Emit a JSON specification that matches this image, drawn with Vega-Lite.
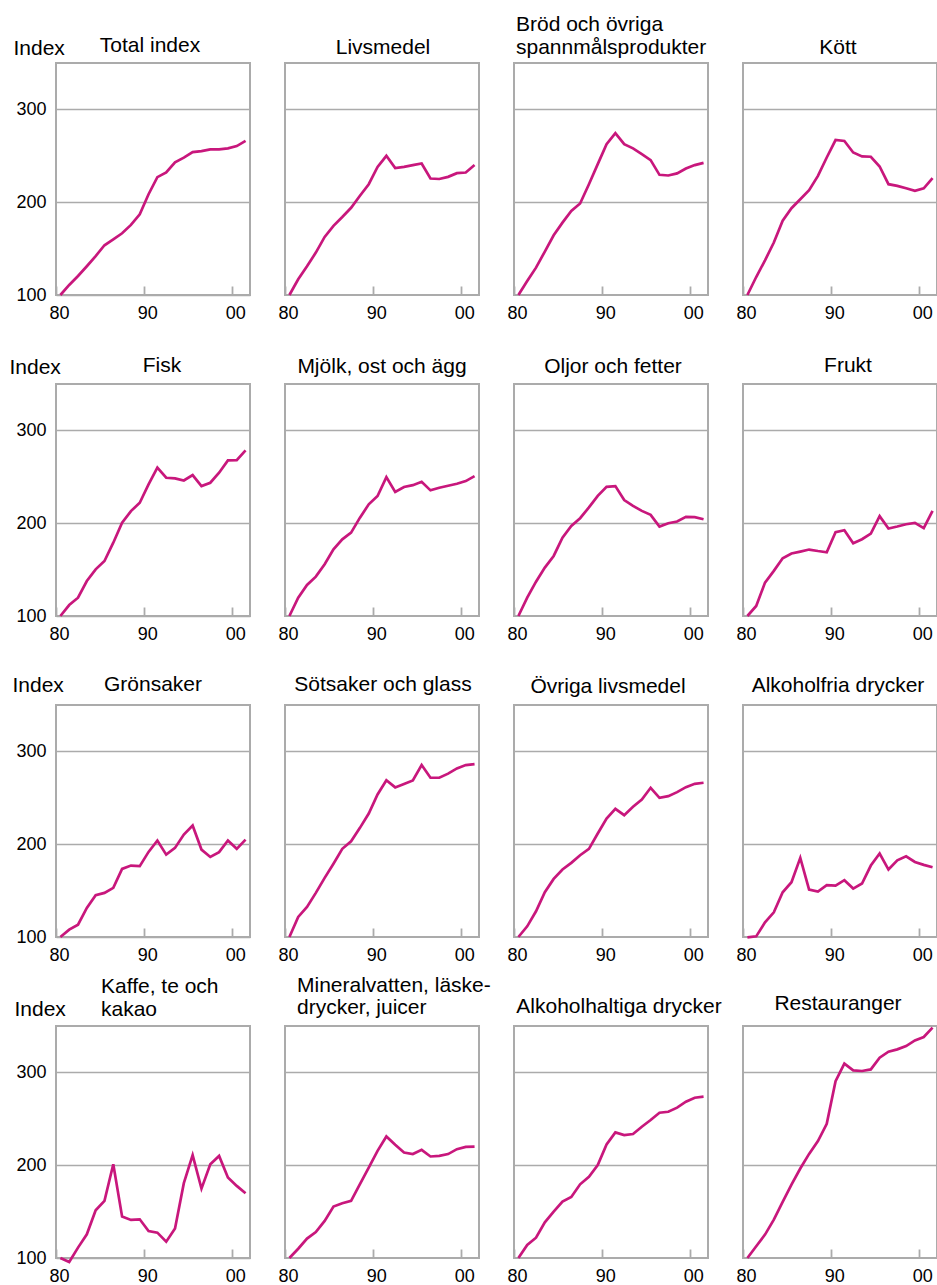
{
"$schema": "https://vega.github.io/schema/vega-lite/v6.json",
"padding": {"left": 8, "top": 13, "right": 2, "bottom": 0},
"background": "white",
"config": {
 "font": "Liberation Sans",
 "view": {"stroke": "#ababab", "strokeWidth": 2},
 "title": {"fontSize": 21, "fontWeight": "normal", "color": "#000000", "frame": "group", "lineHeight": 22.5},
 "axis": {"labelFontSize": 18, "labelColor": "#000000", "domain": false, "gridColor": "#ababab", "gridWidth": 1.6, "tickColor": "#ababab", "tickWidth": 1.8, "titleFontSize": 21, "titleFontWeight": "normal", "titleColor": "#000000"},
 "axisX": {"tickSize": -9, "labelPadding": 18, "grid": false, "labelOffset": 3, "labelFlush": false},
 "axisY": {"ticks": false, "grid": true, "labelPadding": 10},
 "line": {"color": "#c8177c", "strokeWidth": 2.7}
},
"datasets": {"kpi": [
{"s":"total","d":"1980-07-01","v":100},{"s":"total","d":"1981-07-01","v":110.8},{"s":"total","d":"1982-07-01","v":120.5},{"s":"total","d":"1983-07-01","v":131},{"s":"total","d":"1984-07-01","v":142},{"s":"total","d":"1985-07-01","v":153.6},{"s":"total","d":"1986-07-01","v":160},{"s":"total","d":"1987-07-01","v":166.5},{"s":"total","d":"1988-07-01","v":175.5},{"s":"total","d":"1989-07-01","v":187},{"s":"total","d":"1990-07-01","v":208.6},{"s":"total","d":"1991-07-01","v":227},{"s":"total","d":"1992-07-01","v":232},{"s":"total","d":"1993-07-01","v":243},{"s":"total","d":"1994-07-01","v":248},{"s":"total","d":"1995-07-01","v":254},{"s":"total","d":"1996-07-01","v":255},{"s":"total","d":"1997-07-01","v":257},{"s":"total","d":"1998-07-01","v":257},{"s":"total","d":"1999-07-01","v":258},{"s":"total","d":"2000-07-01","v":260.5},{"s":"total","d":"2001-07-01","v":266},
{"s":"livs","d":"1980-07-01","v":100},{"s":"livs","d":"1981-07-01","v":117},{"s":"livs","d":"1982-07-01","v":131},{"s":"livs","d":"1983-07-01","v":145.7},{"s":"livs","d":"1984-07-01","v":162.6},{"s":"livs","d":"1985-07-01","v":174.5},{"s":"livs","d":"1986-07-01","v":184},{"s":"livs","d":"1987-07-01","v":194},{"s":"livs","d":"1988-07-01","v":207},{"s":"livs","d":"1989-07-01","v":219.4},{"s":"livs","d":"1990-07-01","v":238},{"s":"livs","d":"1991-07-01","v":250},{"s":"livs","d":"1992-07-01","v":236.7},{"s":"livs","d":"1993-07-01","v":238},{"s":"livs","d":"1994-07-01","v":240},{"s":"livs","d":"1995-07-01","v":241.7},{"s":"livs","d":"1996-07-01","v":225.5},{"s":"livs","d":"1997-07-01","v":225},{"s":"livs","d":"1998-07-01","v":227.3},{"s":"livs","d":"1999-07-01","v":231.3},{"s":"livs","d":"2000-07-01","v":232},{"s":"livs","d":"2001-07-01","v":240},
{"s":"brod","d":"1980-07-01","v":100},{"s":"brod","d":"1981-07-01","v":115},{"s":"brod","d":"1982-07-01","v":129.5},{"s":"brod","d":"1983-07-01","v":146.8},{"s":"brod","d":"1984-07-01","v":164.4},{"s":"brod","d":"1985-07-01","v":178},{"s":"brod","d":"1986-07-01","v":190.6},{"s":"brod","d":"1987-07-01","v":198.6},{"s":"brod","d":"1988-07-01","v":219.4},{"s":"brod","d":"1989-07-01","v":241},{"s":"brod","d":"1990-07-01","v":262.6},{"s":"brod","d":"1991-07-01","v":274.5},{"s":"brod","d":"1992-07-01","v":262.6},{"s":"brod","d":"1993-07-01","v":258},{"s":"brod","d":"1994-07-01","v":251.8},{"s":"brod","d":"1995-07-01","v":245.3},{"s":"brod","d":"1996-07-01","v":229.5},{"s":"brod","d":"1997-07-01","v":228.8},{"s":"brod","d":"1998-07-01","v":231},{"s":"brod","d":"1999-07-01","v":236.3},{"s":"brod","d":"2000-07-01","v":240},{"s":"brod","d":"2001-07-01","v":242.4},
{"s":"kott","d":"1980-07-01","v":100},{"s":"kott","d":"1981-07-01","v":119.4},{"s":"kott","d":"1982-07-01","v":137.4},{"s":"kott","d":"1983-07-01","v":156.5},{"s":"kott","d":"1984-07-01","v":180},{"s":"kott","d":"1985-07-01","v":193.5},{"s":"kott","d":"1986-07-01","v":203.2},{"s":"kott","d":"1987-07-01","v":213},{"s":"kott","d":"1988-07-01","v":228.4},{"s":"kott","d":"1989-07-01","v":248.2},{"s":"kott","d":"1990-07-01","v":267},{"s":"kott","d":"1991-07-01","v":266},{"s":"kott","d":"1992-07-01","v":253.6},{"s":"kott","d":"1993-07-01","v":249.3},{"s":"kott","d":"1994-07-01","v":249},{"s":"kott","d":"1995-07-01","v":238.5},{"s":"kott","d":"1996-07-01","v":219.4},{"s":"kott","d":"1997-07-01","v":217.6},{"s":"kott","d":"1998-07-01","v":215},{"s":"kott","d":"1999-07-01","v":212.2},{"s":"kott","d":"2000-07-01","v":215},{"s":"kott","d":"2001-07-01","v":226},
{"s":"fisk","d":"1980-07-01","v":100},{"s":"fisk","d":"1981-07-01","v":111.8},{"s":"fisk","d":"1982-07-01","v":119.7},{"s":"fisk","d":"1983-07-01","v":137.7},{"s":"fisk","d":"1984-07-01","v":150.3},{"s":"fisk","d":"1985-07-01","v":159.2},{"s":"fisk","d":"1986-07-01","v":179},{"s":"fisk","d":"1987-07-01","v":200.5},{"s":"fisk","d":"1988-07-01","v":213},{"s":"fisk","d":"1989-07-01","v":222},{"s":"fisk","d":"1990-07-01","v":241.8},{"s":"fisk","d":"1991-07-01","v":259.8},{"s":"fisk","d":"1992-07-01","v":249},{"s":"fisk","d":"1993-07-01","v":248.3},{"s":"fisk","d":"1994-07-01","v":246},{"s":"fisk","d":"1995-07-01","v":251.9},{"s":"fisk","d":"1996-07-01","v":240},{"s":"fisk","d":"1997-07-01","v":243.6},{"s":"fisk","d":"1998-07-01","v":254.4},{"s":"fisk","d":"1999-07-01","v":267.7},{"s":"fisk","d":"2000-07-01","v":268},{"s":"fisk","d":"2001-07-01","v":278.5},
{"s":"mjolk","d":"1980-07-01","v":100},{"s":"mjolk","d":"1981-07-01","v":119.7},{"s":"mjolk","d":"1982-07-01","v":133.4},{"s":"mjolk","d":"1983-07-01","v":142.4},{"s":"mjolk","d":"1984-07-01","v":155.7},{"s":"mjolk","d":"1985-07-01","v":171.8},{"s":"mjolk","d":"1986-07-01","v":182.6},{"s":"mjolk","d":"1987-07-01","v":189.8},{"s":"mjolk","d":"1988-07-01","v":206},{"s":"mjolk","d":"1989-07-01","v":220.3},{"s":"mjolk","d":"1990-07-01","v":229.3},{"s":"mjolk","d":"1991-07-01","v":249.7},{"s":"mjolk","d":"1992-07-01","v":233.6},{"s":"mjolk","d":"1993-07-01","v":239},{"s":"mjolk","d":"1994-07-01","v":241},{"s":"mjolk","d":"1995-07-01","v":244.7},{"s":"mjolk","d":"1996-07-01","v":235.4},{"s":"mjolk","d":"1997-07-01","v":238.2},{"s":"mjolk","d":"1998-07-01","v":240.4},{"s":"mjolk","d":"1999-07-01","v":242.5},{"s":"mjolk","d":"2000-07-01","v":245.4},{"s":"mjolk","d":"2001-07-01","v":250.8},
{"s":"oljor","d":"1980-07-01","v":100},{"s":"oljor","d":"1981-07-01","v":119.8},{"s":"oljor","d":"1982-07-01","v":137},{"s":"oljor","d":"1983-07-01","v":152.2},{"s":"oljor","d":"1984-07-01","v":164.7},{"s":"oljor","d":"1985-07-01","v":184.5},{"s":"oljor","d":"1986-07-01","v":197},{"s":"oljor","d":"1987-07-01","v":205.4},{"s":"oljor","d":"1988-07-01","v":217},{"s":"oljor","d":"1989-07-01","v":229.5},{"s":"oljor","d":"1990-07-01","v":239.2},{"s":"oljor","d":"1991-07-01","v":240},{"s":"oljor","d":"1992-07-01","v":225},{"s":"oljor","d":"1993-07-01","v":218.7},{"s":"oljor","d":"1994-07-01","v":213.3},{"s":"oljor","d":"1995-07-01","v":209},{"s":"oljor","d":"1996-07-01","v":196.4},{"s":"oljor","d":"1997-07-01","v":200},{"s":"oljor","d":"1998-07-01","v":201.8},{"s":"oljor","d":"1999-07-01","v":206.8},{"s":"oljor","d":"2000-07-01","v":206.5},{"s":"oljor","d":"2001-07-01","v":204.3},
{"s":"frukt","d":"1980-07-01","v":100},{"s":"frukt","d":"1981-07-01","v":110.8},{"s":"frukt","d":"1982-07-01","v":136},{"s":"frukt","d":"1983-07-01","v":148.6},{"s":"frukt","d":"1984-07-01","v":162.2},{"s":"frukt","d":"1985-07-01","v":167.3},{"s":"frukt","d":"1986-07-01","v":169.4},{"s":"frukt","d":"1987-07-01","v":171.6},{"s":"frukt","d":"1988-07-01","v":170},{"s":"frukt","d":"1989-07-01","v":168.7},{"s":"frukt","d":"1990-07-01","v":190.3},{"s":"frukt","d":"1991-07-01","v":192.4},{"s":"frukt","d":"1992-07-01","v":178.4},{"s":"frukt","d":"1993-07-01","v":182.7},{"s":"frukt","d":"1994-07-01","v":188.8},{"s":"frukt","d":"1995-07-01","v":207.6},{"s":"frukt","d":"1996-07-01","v":194.2},{"s":"frukt","d":"1997-07-01","v":196.4},{"s":"frukt","d":"1998-07-01","v":198.9},{"s":"frukt","d":"1999-07-01","v":200.4},{"s":"frukt","d":"2000-07-01","v":194.6},{"s":"frukt","d":"2001-07-01","v":213.3},
{"s":"gron","d":"1980-07-01","v":100},{"s":"gron","d":"1981-07-01","v":107.9},{"s":"gron","d":"1982-07-01","v":113.3},{"s":"gron","d":"1983-07-01","v":131.3},{"s":"gron","d":"1984-07-01","v":145},{"s":"gron","d":"1985-07-01","v":147.5},{"s":"gron","d":"1986-07-01","v":152.9},{"s":"gron","d":"1987-07-01","v":173.4},{"s":"gron","d":"1988-07-01","v":177},{"s":"gron","d":"1989-07-01","v":176.3},{"s":"gron","d":"1990-07-01","v":191.7},{"s":"gron","d":"1991-07-01","v":204},{"s":"gron","d":"1992-07-01","v":188.8},{"s":"gron","d":"1993-07-01","v":196},{"s":"gron","d":"1994-07-01","v":210.4},{"s":"gron","d":"1995-07-01","v":220.1},{"s":"gron","d":"1996-07-01","v":194.2},{"s":"gron","d":"1997-07-01","v":186.3},{"s":"gron","d":"1998-07-01","v":191.4},{"s":"gron","d":"1999-07-01","v":204},{"s":"gron","d":"2000-07-01","v":195},{"s":"gron","d":"2001-07-01","v":205},
{"s":"sot","d":"1980-07-01","v":100},{"s":"sot","d":"1981-07-01","v":121.6},{"s":"sot","d":"1982-07-01","v":132.4},{"s":"sot","d":"1983-07-01","v":147.5},{"s":"sot","d":"1984-07-01","v":163.7},{"s":"sot","d":"1985-07-01","v":179},{"s":"sot","d":"1986-07-01","v":195},{"s":"sot","d":"1987-07-01","v":203.2},{"s":"sot","d":"1988-07-01","v":217.6},{"s":"sot","d":"1989-07-01","v":233},{"s":"sot","d":"1990-07-01","v":253.6},{"s":"sot","d":"1991-07-01","v":269},{"s":"sot","d":"1992-07-01","v":261.2},{"s":"sot","d":"1993-07-01","v":265},{"s":"sot","d":"1994-07-01","v":268.7},{"s":"sot","d":"1995-07-01","v":285.3},{"s":"sot","d":"1996-07-01","v":271.6},{"s":"sot","d":"1997-07-01","v":271.6},{"s":"sot","d":"1998-07-01","v":276},{"s":"sot","d":"1999-07-01","v":281.7},{"s":"sot","d":"2000-07-01","v":285.3},{"s":"sot","d":"2001-07-01","v":286.3},
{"s":"ovriga","d":"1980-07-01","v":100},{"s":"ovriga","d":"1981-07-01","v":111.5},{"s":"ovriga","d":"1982-07-01","v":127.7},{"s":"ovriga","d":"1983-07-01","v":148.2},{"s":"ovriga","d":"1984-07-01","v":162.6},{"s":"ovriga","d":"1985-07-01","v":172.7},{"s":"ovriga","d":"1986-07-01","v":179.9},{"s":"ovriga","d":"1987-07-01","v":188.1},{"s":"ovriga","d":"1988-07-01","v":195},{"s":"ovriga","d":"1989-07-01","v":211.5},{"s":"ovriga","d":"1990-07-01","v":227.7},{"s":"ovriga","d":"1991-07-01","v":238.1},{"s":"ovriga","d":"1992-07-01","v":231.3},{"s":"ovriga","d":"1993-07-01","v":240.3},{"s":"ovriga","d":"1994-07-01","v":248.2},{"s":"ovriga","d":"1995-07-01","v":260.8},{"s":"ovriga","d":"1996-07-01","v":250},{"s":"ovriga","d":"1997-07-01","v":251.8},{"s":"ovriga","d":"1998-07-01","v":256.1},{"s":"ovriga","d":"1999-07-01","v":261.5},{"s":"ovriga","d":"2000-07-01","v":265.1},{"s":"ovriga","d":"2001-07-01","v":266.2},
{"s":"alkfria","d":"1980-07-01","v":99.5},{"s":"alkfria","d":"1981-07-01","v":100.7},{"s":"alkfria","d":"1982-07-01","v":115.8},{"s":"alkfria","d":"1983-07-01","v":126.6},{"s":"alkfria","d":"1984-07-01","v":148.2},{"s":"alkfria","d":"1985-07-01","v":159},{"s":"alkfria","d":"1986-07-01","v":185.3},{"s":"alkfria","d":"1987-07-01","v":151.1},{"s":"alkfria","d":"1988-07-01","v":148.9},{"s":"alkfria","d":"1989-07-01","v":155.8},{"s":"alkfria","d":"1990-07-01","v":155.4},{"s":"alkfria","d":"1991-07-01","v":161.2},{"s":"alkfria","d":"1992-07-01","v":152.2},{"s":"alkfria","d":"1993-07-01","v":157.6},{"s":"alkfria","d":"1994-07-01","v":177},{"s":"alkfria","d":"1995-07-01","v":190},{"s":"alkfria","d":"1996-07-01","v":172.7},{"s":"alkfria","d":"1997-07-01","v":182.7},{"s":"alkfria","d":"1998-07-01","v":187},{"s":"alkfria","d":"1999-07-01","v":180.9},{"s":"alkfria","d":"2000-07-01","v":177.7},{"s":"alkfria","d":"2001-07-01","v":175.2},
{"s":"kaffe","d":"1980-07-01","v":100},{"s":"kaffe","d":"1981-07-01","v":95.7},{"s":"kaffe","d":"1982-07-01","v":111.2},{"s":"kaffe","d":"1983-07-01","v":125.5},{"s":"kaffe","d":"1984-07-01","v":151.4},{"s":"kaffe","d":"1985-07-01","v":161.5},{"s":"kaffe","d":"1986-07-01","v":201},{"s":"kaffe","d":"1987-07-01","v":144.6},{"s":"kaffe","d":"1988-07-01","v":141},{"s":"kaffe","d":"1989-07-01","v":141.7},{"s":"kaffe","d":"1990-07-01","v":129.1},{"s":"kaffe","d":"1991-07-01","v":127.3},{"s":"kaffe","d":"1992-07-01","v":117.6},{"s":"kaffe","d":"1993-07-01","v":131.7},{"s":"kaffe","d":"1994-07-01","v":180.6},{"s":"kaffe","d":"1995-07-01","v":210.8},{"s":"kaffe","d":"1996-07-01","v":174.8},{"s":"kaffe","d":"1997-07-01","v":201},{"s":"kaffe","d":"1998-07-01","v":210},{"s":"kaffe","d":"1999-07-01","v":186.7},{"s":"kaffe","d":"2000-07-01","v":177.7},{"s":"kaffe","d":"2001-07-01","v":169.8},
{"s":"mineral","d":"1980-07-01","v":100},{"s":"mineral","d":"1981-07-01","v":110},{"s":"mineral","d":"1982-07-01","v":120.9},{"s":"mineral","d":"1983-07-01","v":128},{"s":"mineral","d":"1984-07-01","v":140},{"s":"mineral","d":"1985-07-01","v":155.4},{"s":"mineral","d":"1986-07-01","v":159},{"s":"mineral","d":"1987-07-01","v":161.5},{"s":"mineral","d":"1988-07-01","v":179.5},{"s":"mineral","d":"1989-07-01","v":197.5},{"s":"mineral","d":"1990-07-01","v":215.5},{"s":"mineral","d":"1991-07-01","v":231},{"s":"mineral","d":"1992-07-01","v":222},{"s":"mineral","d":"1993-07-01","v":213.7},{"s":"mineral","d":"1994-07-01","v":212},{"s":"mineral","d":"1995-07-01","v":216.5},{"s":"mineral","d":"1996-07-01","v":209.4},{"s":"mineral","d":"1997-07-01","v":210},{"s":"mineral","d":"1998-07-01","v":212},{"s":"mineral","d":"1999-07-01","v":217.3},{"s":"mineral","d":"2000-07-01","v":219.8},{"s":"mineral","d":"2001-07-01","v":220.1},
{"s":"alkohol","d":"1980-07-01","v":100},{"s":"alkohol","d":"1981-07-01","v":114},{"s":"alkohol","d":"1982-07-01","v":121.9},{"s":"alkohol","d":"1983-07-01","v":138.4},{"s":"alkohol","d":"1984-07-01","v":149.9},{"s":"alkohol","d":"1985-07-01","v":160.7},{"s":"alkohol","d":"1986-07-01","v":165.7},{"s":"alkohol","d":"1987-07-01","v":179.4},{"s":"alkohol","d":"1988-07-01","v":187.6},{"s":"alkohol","d":"1989-07-01","v":200.2},{"s":"alkohol","d":"1990-07-01","v":222.4},{"s":"alkohol","d":"1991-07-01","v":235.4},{"s":"alkohol","d":"1992-07-01","v":232.5},{"s":"alkohol","d":"1993-07-01","v":233.6},{"s":"alkohol","d":"1994-07-01","v":241.5},{"s":"alkohol","d":"1995-07-01","v":248.7},{"s":"alkohol","d":"1996-07-01","v":256.6},{"s":"alkohol","d":"1997-07-01","v":257.6},{"s":"alkohol","d":"1998-07-01","v":262},{"s":"alkohol","d":"1999-07-01","v":268.4},{"s":"alkohol","d":"2000-07-01","v":272.7},{"s":"alkohol","d":"2001-07-01","v":273.8},
{"s":"rest","d":"1980-07-01","v":100},{"s":"rest","d":"1981-07-01","v":112.6},{"s":"rest","d":"1982-07-01","v":125.2},{"s":"rest","d":"1983-07-01","v":141.4},{"s":"rest","d":"1984-07-01","v":160.4},{"s":"rest","d":"1985-07-01","v":179.1},{"s":"rest","d":"1986-07-01","v":196.4},{"s":"rest","d":"1987-07-01","v":212.2},{"s":"rest","d":"1988-07-01","v":226},{"s":"rest","d":"1989-07-01","v":244.6},{"s":"rest","d":"1990-07-01","v":290.6},{"s":"rest","d":"1991-07-01","v":309.4},{"s":"rest","d":"1992-07-01","v":302.2},{"s":"rest","d":"1993-07-01","v":301.5},{"s":"rest","d":"1994-07-01","v":303.2},{"s":"rest","d":"1995-07-01","v":315.8},{"s":"rest","d":"1996-07-01","v":322.3},{"s":"rest","d":"1997-07-01","v":324.8},{"s":"rest","d":"1998-07-01","v":328.4},{"s":"rest","d":"1999-07-01","v":334.5},{"s":"rest","d":"2000-07-01","v":338.1},{"s":"rest","d":"2001-07-01","v":348.2}
]},
"data": {"name": "kpi"},
"columns": 4,
"bounds": "flush",
"spacing": {"row": 89, "column": 35},
"concat": [
{"title": {"text": "Total index", "offset": -19, "dx": -3}, "width": 194, "height": 232, "transform": [{"filter": {"field": "s", "equal": "total"}}], "mark": "line",
 "encoding": {"x": {"field": "d", "type": "temporal", "scale": {"type": "utc", "domain": [{"year": 1980, "utc": true}, {"year": 2002, "utc": true}]}, "axis": {"values": [{"year": 1980, "utc": true}, {"year": 1990, "utc": true}, {"year": 2000, "utc": true}], "format": "%y", "title": null}},
  "y": {"field": "v", "type": "quantitative", "scale": {"domain": [100, 350], "nice": false, "zero": false}, "axis": {"values": [100, 200, 300], "title": "Index", "titleAngle": 0, "titleX": -43, "titleY": -5, "titleAlign": "left", "titleBaseline": "bottom"}}}},
{"title": {"text": "Livsmedel", "offset": 5.3, "dx": 1}, "width": 194, "height": 232, "transform": [{"filter": {"field": "s", "equal": "livs"}}], "mark": "line",
 "encoding": {"x": {"field": "d", "type": "temporal", "scale": {"type": "utc", "domain": [{"year": 1980, "utc": true}, {"year": 2002, "utc": true}]}, "axis": {"values": [{"year": 1980, "utc": true}, {"year": 1990, "utc": true}, {"year": 2000, "utc": true}], "format": "%y", "title": null}},
  "y": {"field": "v", "type": "quantitative", "scale": {"domain": [100, 350], "nice": false, "zero": false}, "axis": {"values": [200, 300], "labels": false, "title": null}}}},
{"title": {"text": ["Bröd och övriga", "spannmålsprodukter"], "anchor": "start", "offset": 5.3, "dx": 2}, "width": 194, "height": 232, "transform": [{"filter": {"field": "s", "equal": "brod"}}], "mark": "line",
 "encoding": {"x": {"field": "d", "type": "temporal", "scale": {"type": "utc", "domain": [{"year": 1980, "utc": true}, {"year": 2002, "utc": true}]}, "axis": {"values": [{"year": 1980, "utc": true}, {"year": 1990, "utc": true}, {"year": 2000, "utc": true}], "format": "%y", "title": null}},
  "y": {"field": "v", "type": "quantitative", "scale": {"domain": [100, 350], "nice": false, "zero": false}, "axis": {"values": [200, 300], "labels": false, "title": null}}}},
{"title": {"text": "Kött", "offset": 5.3, "dx": -2}, "width": 194, "height": 232, "transform": [{"filter": {"field": "s", "equal": "kott"}}], "mark": "line",
 "encoding": {"x": {"field": "d", "type": "temporal", "scale": {"type": "utc", "domain": [{"year": 1980, "utc": true}, {"year": 2002, "utc": true}]}, "axis": {"values": [{"year": 1980, "utc": true}, {"year": 1990, "utc": true}, {"year": 2000, "utc": true}], "format": "%y", "title": null}},
  "y": {"field": "v", "type": "quantitative", "scale": {"domain": [100, 350], "nice": false, "zero": false}, "axis": {"values": [200, 300], "labels": false, "title": null}}}},
{"title": {"text": "Fisk", "offset": -20, "dx": 9}, "width": 194, "height": 232, "transform": [{"filter": {"field": "s", "equal": "fisk"}}], "mark": "line",
 "encoding": {"x": {"field": "d", "type": "temporal", "scale": {"type": "utc", "domain": [{"year": 1980, "utc": true}, {"year": 2002, "utc": true}]}, "axis": {"values": [{"year": 1980, "utc": true}, {"year": 1990, "utc": true}, {"year": 2000, "utc": true}], "format": "%y", "title": null}},
  "y": {"field": "v", "type": "quantitative", "scale": {"domain": [100, 350], "nice": false, "zero": false}, "axis": {"values": [100, 200, 300], "title": "Index", "titleAngle": 0, "titleX": -47, "titleY": -7, "titleAlign": "left", "titleBaseline": "bottom"}}}},
{"title": {"text": "Mjölk, ost och ägg", "offset": 7, "dx": 0}, "width": 194, "height": 232, "transform": [{"filter": {"field": "s", "equal": "mjolk"}}], "mark": "line",
 "encoding": {"x": {"field": "d", "type": "temporal", "scale": {"type": "utc", "domain": [{"year": 1980, "utc": true}, {"year": 2002, "utc": true}]}, "axis": {"values": [{"year": 1980, "utc": true}, {"year": 1990, "utc": true}, {"year": 2000, "utc": true}], "format": "%y", "title": null}},
  "y": {"field": "v", "type": "quantitative", "scale": {"domain": [100, 350], "nice": false, "zero": false}, "axis": {"values": [200, 300], "labels": false, "title": null}}}},
{"title": {"text": "Oljor och fetter", "offset": 7, "dx": 2}, "width": 194, "height": 232, "transform": [{"filter": {"field": "s", "equal": "oljor"}}], "mark": "line",
 "encoding": {"x": {"field": "d", "type": "temporal", "scale": {"type": "utc", "domain": [{"year": 1980, "utc": true}, {"year": 2002, "utc": true}]}, "axis": {"values": [{"year": 1980, "utc": true}, {"year": 1990, "utc": true}, {"year": 2000, "utc": true}], "format": "%y", "title": null}},
  "y": {"field": "v", "type": "quantitative", "scale": {"domain": [100, 350], "nice": false, "zero": false}, "axis": {"values": [200, 300], "labels": false, "title": null}}}},
{"title": {"text": "Frukt", "offset": 7.7, "dx": 8}, "width": 194, "height": 232, "transform": [{"filter": {"field": "s", "equal": "frukt"}}], "mark": "line",
 "encoding": {"x": {"field": "d", "type": "temporal", "scale": {"type": "utc", "domain": [{"year": 1980, "utc": true}, {"year": 2002, "utc": true}]}, "axis": {"values": [{"year": 1980, "utc": true}, {"year": 1990, "utc": true}, {"year": 2000, "utc": true}], "format": "%y", "title": null}},
  "y": {"field": "v", "type": "quantitative", "scale": {"domain": [100, 350], "nice": false, "zero": false}, "axis": {"values": [200, 300], "labels": false, "title": null}}}},
{"title": {"text": "Grönsaker", "offset": -20.3, "dx": 0}, "width": 194, "height": 232, "transform": [{"filter": {"field": "s", "equal": "gron"}}], "mark": "line",
 "encoding": {"x": {"field": "d", "type": "temporal", "scale": {"type": "utc", "domain": [{"year": 1980, "utc": true}, {"year": 2002, "utc": true}]}, "axis": {"values": [{"year": 1980, "utc": true}, {"year": 1990, "utc": true}, {"year": 2000, "utc": true}], "format": "%y", "title": null}},
  "y": {"field": "v", "type": "quantitative", "scale": {"domain": [100, 350], "nice": false, "zero": false}, "axis": {"values": [100, 200, 300], "title": "Index", "titleAngle": 0, "titleX": -44, "titleY": -9.7, "titleAlign": "left", "titleBaseline": "bottom"}}}},
{"title": {"text": "Sötsaker och glass", "offset": 10.4, "dx": 1}, "width": 194, "height": 232, "transform": [{"filter": {"field": "s", "equal": "sot"}}], "mark": "line",
 "encoding": {"x": {"field": "d", "type": "temporal", "scale": {"type": "utc", "domain": [{"year": 1980, "utc": true}, {"year": 2002, "utc": true}]}, "axis": {"values": [{"year": 1980, "utc": true}, {"year": 1990, "utc": true}, {"year": 2000, "utc": true}], "format": "%y", "title": null}},
  "y": {"field": "v", "type": "quantitative", "scale": {"domain": [100, 350], "nice": false, "zero": false}, "axis": {"values": [200, 300], "labels": false, "title": null}}}},
{"title": {"text": "Övriga livsmedel", "offset": 8.3, "dx": -3}, "width": 194, "height": 232, "transform": [{"filter": {"field": "s", "equal": "ovriga"}}], "mark": "line",
 "encoding": {"x": {"field": "d", "type": "temporal", "scale": {"type": "utc", "domain": [{"year": 1980, "utc": true}, {"year": 2002, "utc": true}]}, "axis": {"values": [{"year": 1980, "utc": true}, {"year": 1990, "utc": true}, {"year": 2000, "utc": true}], "format": "%y", "title": null}},
  "y": {"field": "v", "type": "quantitative", "scale": {"domain": [100, 350], "nice": false, "zero": false}, "axis": {"values": [200, 300], "labels": false, "title": null}}}},
{"title": {"text": "Alkoholfria drycker", "offset": 9, "dx": -2}, "width": 194, "height": 232, "transform": [{"filter": {"field": "s", "equal": "alkfria"}}], "mark": "line",
 "encoding": {"x": {"field": "d", "type": "temporal", "scale": {"type": "utc", "domain": [{"year": 1980, "utc": true}, {"year": 2002, "utc": true}]}, "axis": {"values": [{"year": 1980, "utc": true}, {"year": 1990, "utc": true}, {"year": 2000, "utc": true}], "format": "%y", "title": null}},
  "y": {"field": "v", "type": "quantitative", "scale": {"domain": [100, 350], "nice": false, "zero": false}, "axis": {"values": [200, 300], "labels": false, "title": null}}}},
{"title": {"text": ["Kaffe, te och", "kakao"], "anchor": "start", "offset": -21.7, "dx": 45}, "width": 194, "height": 232, "transform": [{"filter": {"field": "s", "equal": "kaffe"}}], "mark": "line",
 "encoding": {"x": {"field": "d", "type": "temporal", "scale": {"type": "utc", "domain": [{"year": 1980, "utc": true}, {"year": 2002, "utc": true}]}, "axis": {"values": [{"year": 1980, "utc": true}, {"year": 1990, "utc": true}, {"year": 2000, "utc": true}], "format": "%y", "title": null}},
  "y": {"field": "v", "type": "quantitative", "scale": {"domain": [100, 350], "nice": false, "zero": false}, "axis": {"values": [100, 200, 300], "title": "Index", "titleAngle": 0, "titleX": -42, "titleY": -7, "titleAlign": "left", "titleBaseline": "bottom"}}}},
{"title": {"text": ["Mineralvatten, läske-", "drycker, juicer"], "anchor": "start", "offset": 8, "dx": 12}, "width": 194, "height": 232, "transform": [{"filter": {"field": "s", "equal": "mineral"}}], "mark": "line",
 "encoding": {"x": {"field": "d", "type": "temporal", "scale": {"type": "utc", "domain": [{"year": 1980, "utc": true}, {"year": 2002, "utc": true}]}, "axis": {"values": [{"year": 1980, "utc": true}, {"year": 1990, "utc": true}, {"year": 2000, "utc": true}], "format": "%y", "title": null}},
  "y": {"field": "v", "type": "quantitative", "scale": {"domain": [100, 350], "nice": false, "zero": false}, "axis": {"values": [200, 300], "labels": false, "title": null}}}},
{"title": {"text": "Alkoholhaltiga drycker", "offset": 8.7, "dx": 8}, "width": 194, "height": 232, "transform": [{"filter": {"field": "s", "equal": "alkohol"}}], "mark": "line",
 "encoding": {"x": {"field": "d", "type": "temporal", "scale": {"type": "utc", "domain": [{"year": 1980, "utc": true}, {"year": 2002, "utc": true}]}, "axis": {"values": [{"year": 1980, "utc": true}, {"year": 1990, "utc": true}, {"year": 2000, "utc": true}], "format": "%y", "title": null}},
  "y": {"field": "v", "type": "quantitative", "scale": {"domain": [100, 350], "nice": false, "zero": false}, "axis": {"values": [200, 300], "labels": false, "title": null}}}},
{"title": {"text": "Restauranger", "offset": 8, "dx": -2}, "width": 194, "height": 232, "transform": [{"filter": {"field": "s", "equal": "rest"}}], "mark": "line",
 "encoding": {"x": {"field": "d", "type": "temporal", "scale": {"type": "utc", "domain": [{"year": 1980, "utc": true}, {"year": 2002, "utc": true}]}, "axis": {"values": [{"year": 1980, "utc": true}, {"year": 1990, "utc": true}, {"year": 2000, "utc": true}], "format": "%y", "title": null}},
  "y": {"field": "v", "type": "quantitative", "scale": {"domain": [100, 350], "nice": false, "zero": false}, "axis": {"values": [200, 300], "labels": false, "title": null}}}}
]
}
